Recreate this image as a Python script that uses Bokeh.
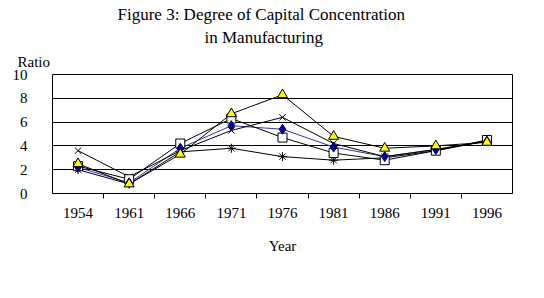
from bokeh.plotting import figure
from bokeh.models import Range1d, FixedTicker, Legend, LegendItem, Title
from bokeh.embed import file_html
from bokeh.resources import INLINE

years = ["1954", "1961", "1966", "1971", "1976", "1981", "1986", "1991", "1996"]
total = [2.2, 0.9, 3.8, 5.7, 5.4, 3.9, 3.1, 3.7, 4.4]
type_1 = [2.3, 1.2, 4.2, 6.3, 4.7, 3.4, 2.8, 3.6, 4.5]
type_2 = [2.5, 0.8, 3.3, 6.7, 8.3, 4.8, 3.8, 4.0, 4.3]
type_3 = [3.6, 1.4, 3.6, 5.3, 6.4, 4.2, 3.1, 3.7, 4.4]
type_4 = [2.0, 0.8, 3.5, 3.8, 3.1, 2.8, 3.0, 3.6, 4.4]
y_ticks = [0, 2, 4, 6, 8, 10]
series_names = ["Total", "Type I", "Type II", "Type III", "Type IV"]

SERIF = "Liberation Serif"
xs = list(range(len(years)))

# marker style per series
styles = [
    dict(line="#3333aa", marker="diamond", size=10, fill="#000080", edge="#000080"),
    dict(line="black", marker="square", size=9, fill="white", edge="black"),
    dict(line="black", marker="triangle", size=10, fill="#ffff00", edge="black"),
    dict(line="black", marker="x", size=9, fill=None, edge="black"),
    dict(line="black", marker="asterisk", size=9, fill=None, edge="black"),
]
values = [total, type_1, type_2, type_3, type_4]

p = figure(width=544, height=298, frame_width=460, frame_height=119,
           output_backend="svg", toolbar_location=None,
           x_range=Range1d(-0.5, len(years) - 0.5), y_range=Range1d(0, 10),
           min_border_left=52, min_border_right=32,
           min_border_top=0, min_border_bottom=0)
p.title.visible = False
p.background_fill_color = "white"
p.border_fill_color = "white"
p.outline_line_color = "black"
p.outline_line_width = 1

# x axis: year labels at category centres, tick marks between categories
xax = p.xaxis[0]
xax.ticker = FixedTicker(ticks=xs, minor_ticks=[i + 0.5 for i in xs[:-1]])
xax.major_label_overrides = {i: y for i, y in enumerate(years)}
xax.major_tick_line_color = None
xax.minor_tick_line_color = "black"
xax.minor_tick_out = 5
xax.minor_tick_in = 0
xax.axis_line_color = "black"
xax.major_label_standoff = 8
xax.major_label_text_font = SERIF
xax.major_label_text_font_size = "15px"
xax.major_label_text_color = "black"
xax.axis_label = "Year"
xax.axis_label_text_font = SERIF
xax.axis_label_text_font_size = "15px"
xax.axis_label_text_font_style = "normal"
xax.axis_label_text_color = "black"
xax.axis_label_standoff = 17

yax = p.yaxis[0]
yax.ticker = FixedTicker(ticks=y_ticks)
yax.axis_line_color = None
yax.major_tick_line_color = None
yax.minor_tick_line_color = None
yax.major_label_standoff = 19
yax.major_label_text_font = SERIF
yax.major_label_text_font_size = "15px"
yax.major_label_text_color = "black"

p.xgrid.visible = False
p.ygrid.grid_line_color = "black"
p.ygrid.grid_line_width = 1

# series lines, then markers on top
lines, marks = [], {}
for vals, st in zip(values, styles):
    lines.append(p.line(xs, vals, line_color=st["line"], line_width=1))
for idx in [4, 3, 1, 0, 2]:
    st = styles[idx]
    marks[idx] = p.scatter(xs, values[idx], marker=st["marker"], size=st["size"],
                           fill_color=st["fill"], line_color=st["edge"], line_width=1)

items = [LegendItem(label=name, renderers=[lines[i], marks[i]])
         for i, name in enumerate(series_names)]
legend = Legend(items=items, orientation="horizontal", location="bottom",
                border_line_color="black", border_line_width=1,
                background_fill_color="white", background_fill_alpha=1,
                label_text_font=SERIF, label_text_font_size="16px",
                glyph_width=28, glyph_height=16, label_height=16,
                label_standoff=4, spacing=12, padding=5, margin=2)
p.add_layout(legend, "below")

# stacked titles above the frame: nearest first
p.add_layout(Title(text="Ratio", align="left", offset=-35,
                   text_font=SERIF, text_font_size="15px", text_font_style="normal",
                   text_color="black", standoff=10), "above")
p.add_layout(Title(text="in Manufacturing", align="left", offset=152,
                   text_font=SERIF, text_font_size="17px", text_font_style="normal",
                   text_color="black", standoff=0), "above")
p.add_layout(Title(text="Figure 3: Degree of Capital Concentration", align="left", offset=65,
                   text_font=SERIF, text_font_size="17px", text_font_style="normal",
                   text_color="black", standoff=4), "above")

open("out.html", "w").write(file_html(p, INLINE))
